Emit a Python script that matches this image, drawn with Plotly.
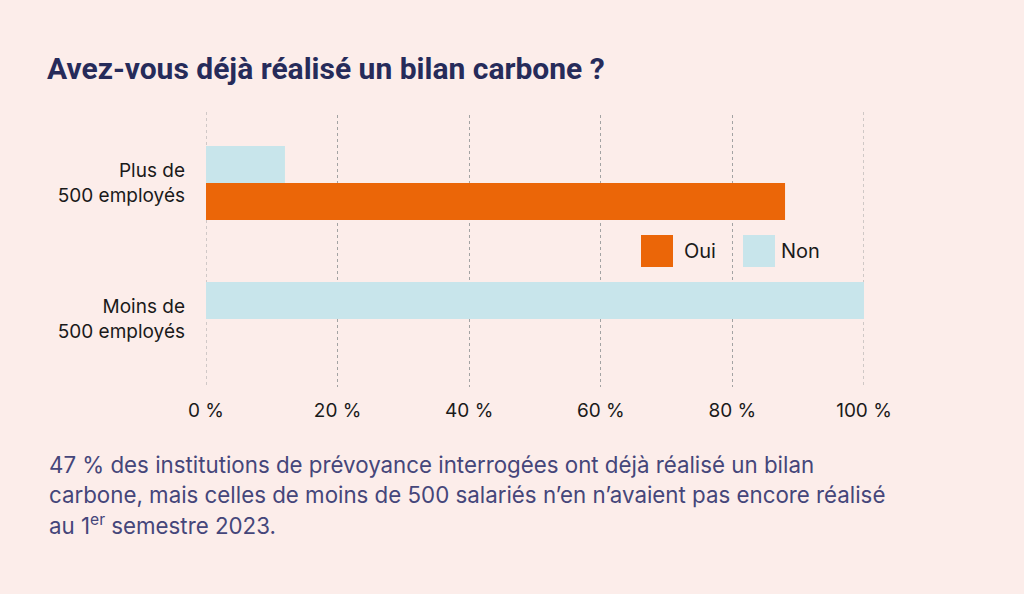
import plotly.graph_objects as go

categories = ["Plus de<br>500 employés", "Moins de<br>500 employés"]
oui_values = [88, 0]
non_values = [12, 100]
x_ticks = [0, 20, 40, 60, 80, 100]
x_tick_labels = ["0 %", "20 %", "40 %", "60 %", "80 %", "100 %"]

BG = "#FCEDEA"
ORANGE = "#EB6608"
BLUE = "#C8E5EB"
NAVY = "#262B5A"
TEXT = "#45467A"
GRID = "#a3a3a3"
FONT = "Inter, Roboto, sans-serif"

# plot area in pixels
L, R, T, B = 206, 864, 115, 387
PW, PH = R - L, B - T

def px(x):
    return (x - L) / PW

def py(y):
    return (B - y) / PH

fig = go.Figure()
fig.add_trace(go.Bar(y=categories, x=non_values, name="Non", orientation="h",
                     marker=dict(color=BLUE, line=dict(width=0)), showlegend=False))
fig.add_trace(go.Bar(y=categories, x=oui_values, name="Oui", orientation="h",
                     marker=dict(color=ORANGE, line=dict(width=0)), showlegend=False))

shapes = [
    dict(type="rect", xref="paper", yref="paper", x0=px(641), x1=px(673), y0=py(267), y1=py(235),
         fillcolor=ORANGE, line=dict(width=0)),
    dict(type="rect", xref="paper", yref="paper", x0=px(743), x1=px(775), y0=py(267), y1=py(235),
         fillcolor=BLUE, line=dict(width=0)),
]
# edge gridlines (0 % and 100 %) that plotly skips at the plot border
for v in (x_ticks[0], x_ticks[-1]):
    shapes.append(dict(type="line", xref="x", yref="paper", x0=v, x1=v, y0=py(385), y1=py(110),
                       layer="below", line=dict(color=GRID, width=1, dash="dot")))

annotations = [
    dict(text="Oui", xref="paper", yref="paper", x=px(682), y=py(251), xanchor="left", yanchor="middle",
         showarrow=False, font=dict(family=FONT, size=20, color="#1a1a1a")),
    dict(text="Non", xref="paper", yref="paper", x=px(779), y=py(251), xanchor="left", yanchor="middle",
         showarrow=False, font=dict(family=FONT, size=20, color="#1a1a1a")),
]
body_lines = [
    "47 % des institutions de prévoyance interrogées ont déjà réalisé un bilan",
    "carbone, mais celles de moins de 500 salariés n’en n’avaient pas encore réalisé",
    "au 1<sup>er</sup> semestre 2023.",
]
for i, line in enumerate(body_lines):
    annotations.append(dict(text=line, xref="paper", yref="paper", x=px(47), y=py(464 + 30 * i),
                            xanchor="left", yanchor="middle", showarrow=False,
                            font=dict(family=FONT, size=22.3, color=TEXT)))

fig.update_layout(
    width=1024, height=594,
    paper_bgcolor=BG, plot_bgcolor=BG,
    margin=dict(l=L, r=1024 - R, t=T, b=594 - B, autoexpand=False),
    barmode="group", bargap=0.456, bargroupgap=0,
    title=dict(text="<b>Avez-vous déjà réalisé un bilan carbone ?</b>", xref="container", yref="container",
               x=47 / 1024, xanchor="left", y=1 - 68 / 594, yanchor="middle",
               font=dict(family="Roboto, sans-serif", size=30, color=NAVY)),
    xaxis=dict(range=[0, 100], tickmode="array", tickvals=x_ticks, ticktext=x_tick_labels,
               showgrid=True, gridcolor=GRID, griddash="dot", gridwidth=1, zeroline=False,
               showline=False, ticks="", ticklabelstandoff=10,
               tickfont=dict(family=FONT, size=19, color="#1a1a1a")),
    yaxis=dict(categoryorder="array", categoryarray=categories, autorange="reversed",
               showgrid=False, zeroline=False, showline=False, ticks="", ticklabelstandoff=20,
               tickfont=dict(family=FONT, size=19, color="#1a1a1a")),
    shapes=shapes, annotations=annotations,
)

fig.write_html("out.html", config={"displayModeBar": False},
               post_script="document.body.style.margin='0';document.body.style.padding='0';")
